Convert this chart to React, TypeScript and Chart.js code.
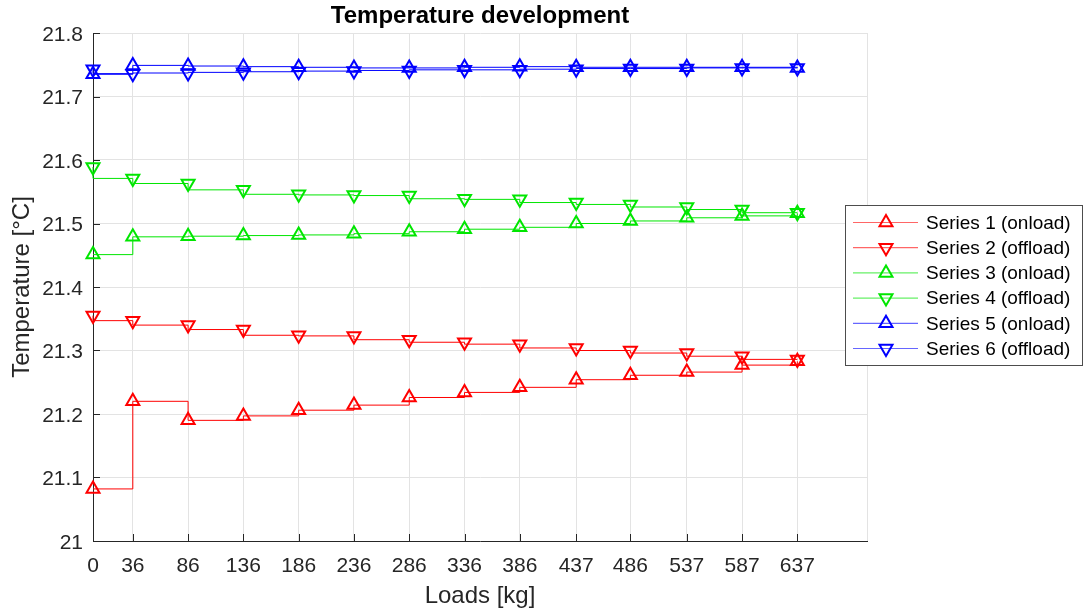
import React, { useEffect, useRef } from "react";
import { Chart, registerables } from "chart.js";

Chart.register(...registerables);

// ---- data ----
const loads = [0, 36, 86, 136, 186, 236, 286, 336, 386, 437, 486, 537, 587, 637];
const series1Onload = [21.082, 21.220, 21.190, 21.197, 21.206, 21.214, 21.226, 21.234, 21.242, 21.254, 21.261, 21.266, 21.277, 21.283];
const series2Offload = [21.355, 21.347, 21.340, 21.333, 21.324, 21.323, 21.317, 21.313, 21.310, 21.304, 21.300, 21.296, 21.291, 21.286];
const series3Onload = [21.451, 21.479, 21.480, 21.481, 21.482, 21.484, 21.487, 21.491, 21.494, 21.500, 21.504, 21.509, 21.512, 21.516];
const series4Offload = [21.589, 21.571, 21.563, 21.553, 21.546, 21.545, 21.544, 21.539, 21.538, 21.533, 21.530, 21.526, 21.522, 21.517];
const series5Onload = [21.735, 21.749, 21.748, 21.747, 21.746, 21.745, 21.745, 21.746, 21.747, 21.746, 21.746, 21.746, 21.746, 21.745];
const series6Offload = [21.743, 21.736, 21.737, 21.738, 21.739, 21.740, 21.741, 21.742, 21.742, 21.743, 21.744, 21.744, 21.745, 21.745];

const seriesLabels = [
  "Series 1 (onload)",
  "Series 2 (offload)",
  "Series 3 (onload)",
  "Series 4 (offload)",
  "Series 5 (onload)",
  "Series 6 (offload)",
];
const seriesValues = [series1Onload, series2Offload, series3Onload, series4Offload, series5Onload, series6Offload];
const seriesColors = ["#ff0000", "#ff0000", "#00e600", "#00e600", "#0000ff", "#0000ff"];
const seriesIsOffload = [false, true, false, true, false, true];

const titleText = "Temperature development";
const xTitle = "Loads [kg]";
const yTitle = "Temperature [°C]";
const xMax = 700;
const yMin = 21;
const yMax = 21.8;

const FONT = '"Liberation Sans", Arial, Helvetica, sans-serif';
const AXIS_COLOR = "#262626";
const GRID_COLOR = "#e3e3e3";

const decorPlugin = {
  id: "matlabDecor",
  afterDraw(chart: any) {
    const ctx = chart.ctx as CanvasRenderingContext2D;
    const area = chart.chartArea;
    const xs = chart.scales.x;
    const ys = chart.scales.y;
    ctx.save();
    // right light border
    ctx.strokeStyle = GRID_COLOR;
    ctx.lineWidth = 1;
    ctx.beginPath();
    ctx.moveTo(Math.round(area.right) + 0.5, area.top);
    ctx.lineTo(Math.round(area.right) + 0.5, area.bottom);
    ctx.stroke();
    // inward ticks
    ctx.strokeStyle = AXIS_COLOR;
    ctx.beginPath();
    for (const v of loads) {
      const px = Math.round(xs.getPixelForValue(v)) + 0.5;
      ctx.moveTo(px, area.bottom);
      ctx.lineTo(px, area.bottom - 7);
    }
    for (const t of ys.ticks) {
      const py = Math.round(ys.getPixelForValue(t.value)) + 0.5;
      ctx.moveTo(area.left, py);
      ctx.lineTo(area.left + 7, py);
    }
    ctx.stroke();
    // title
    ctx.fillStyle = "#000";
    ctx.font = `bold 24px ${FONT}`;
    ctx.textAlign = "center";
    ctx.textBaseline = "middle";
    ctx.fillText(titleText, (area.left + area.right) / 2, 16);
    // axis titles
    ctx.fillStyle = AXIS_COLOR;
    ctx.font = `24px ${FONT}`;
    ctx.fillText(xTitle, (area.left + area.right) / 2, 596);
    ctx.save();
    ctx.translate(22, (area.top + area.bottom) / 2);
    ctx.rotate(-Math.PI / 2);
    ctx.fillText(yTitle, 0, 0);
    ctx.restore();
    // legend
    const bx = 845.5, by = 205.5, bw = 237, bh = 160;
    ctx.fillStyle = "#fff";
    ctx.fillRect(bx, by, bw, bh);
    ctx.strokeStyle = "#4d4d4d";
    ctx.lineWidth = 1;
    ctx.strokeRect(bx, by, bw, bh);
    const rowH = 25.2;
    chart.data.datasets.forEach((ds: any, i: number) => {
      const cy = 222.5 + i * rowH;
      ctx.strokeStyle = ds.borderColor;
      ctx.globalAlpha = 0.6;
      ctx.lineWidth = 1.2;
      ctx.beginPath();
      ctx.moveTo(853, cy);
      ctx.lineTo(918, cy);
      ctx.stroke();
      ctx.globalAlpha = 1;
      ctx.lineWidth = 2;
      ctx.save();
      ctx.translate(886, cy);
      if (ds.pointRotation) ctx.rotate(Math.PI);
      const r = 7.5;
      ctx.beginPath();
      for (let k = 0; k < 3; k++) {
        const a = (k * 2 * Math.PI) / 3;
        const px = Math.sin(a) * r;
        const py = -Math.cos(a) * r;
        if (k === 0) ctx.moveTo(px, py);
        else ctx.lineTo(px, py);
      }
      ctx.closePath();
      ctx.stroke();
      ctx.restore();
      ctx.fillStyle = "#000";
      ctx.font = `19px ${FONT}`;
      ctx.textAlign = "left";
      ctx.textBaseline = "middle";
      ctx.fillText(ds.label, 926, cy + 1);
    });
    ctx.restore();
  },
};

export default function App() {
  const canvasRef = useRef<HTMLCanvasElement | null>(null);

  useEffect(() => {
    document.body.style.margin = "0";
    const canvas = canvasRef.current;
    if (!canvas) return;
    const datasets = seriesValues.map((vals, i) => ({
      label: seriesLabels[i],
      data: loads.map((x, j) => ({ x, y: vals[j] })),
      borderColor: seriesColors[i],
      backgroundColor: "transparent",
      borderWidth: 1,
      stepped: seriesIsOffload[i] ? "after" : "before",
      pointStyle: "triangle",
      pointRadius: 7.5,
      pointBorderWidth: 2,
      pointBorderColor: seriesColors[i],
      pointBackgroundColor: "transparent",
      pointRotation: seriesIsOffload[i] ? 180 : 0,
      fill: false,
      clip: false,
    }));
    const chart = new Chart(canvas, {
      type: "line",
      data: { datasets } as any,
      options: {
        animation: false,
        responsive: false,
        maintainAspectRatio: false,
        layout: { padding: { left: 0, top: 33, right: 216, bottom: 0 } },
        plugins: {
          legend: { display: false },
          title: { display: false },
          tooltip: { enabled: false },
        },
        scales: {
          x: {
            type: "linear",
            min: 0,
            max: xMax,
            afterBuildTicks: (axis: any) => {
              axis.ticks = loads.map((v) => ({ value: v }));
            },
            afterFit: (scale: any) => {
              scale.height = 70;
            },
            ticks: {
              autoSkip: false,
              maxRotation: 0,
              padding: 13,
              color: AXIS_COLOR,
              font: { family: FONT, size: 21 },
              callback: (v: any) => String(v),
            },
            grid: { color: GRID_COLOR, drawTicks: false },
            border: { color: AXIS_COLOR, width: 1 },
          },
          y: {
            type: "linear",
            min: yMin,
            max: yMax,
            afterFit: (scale: any) => {
              scale.width = 93;
            },
            ticks: {
              stepSize: 0.1,
              padding: 10,
              labelOffset: 2,
              color: AXIS_COLOR,
              font: { family: FONT, size: 21 },
              callback: (v: any) => String(Number(Number(v).toFixed(1))),
            },
            grid: { color: GRID_COLOR, drawTicks: false },
            border: { color: AXIS_COLOR, width: 1 },
          },
        },
      } as any,
      plugins: [decorPlugin],
    });
    return () => chart.destroy();
  }, []);

  return (
    <div style={{ position: "fixed", left: 0, top: 0, width: 1083, height: 611, background: "#fff" }}>
      <canvas ref={canvasRef} width={1083} height={611} style={{ width: 1083, height: 611 }} />
    </div>
  );
}
